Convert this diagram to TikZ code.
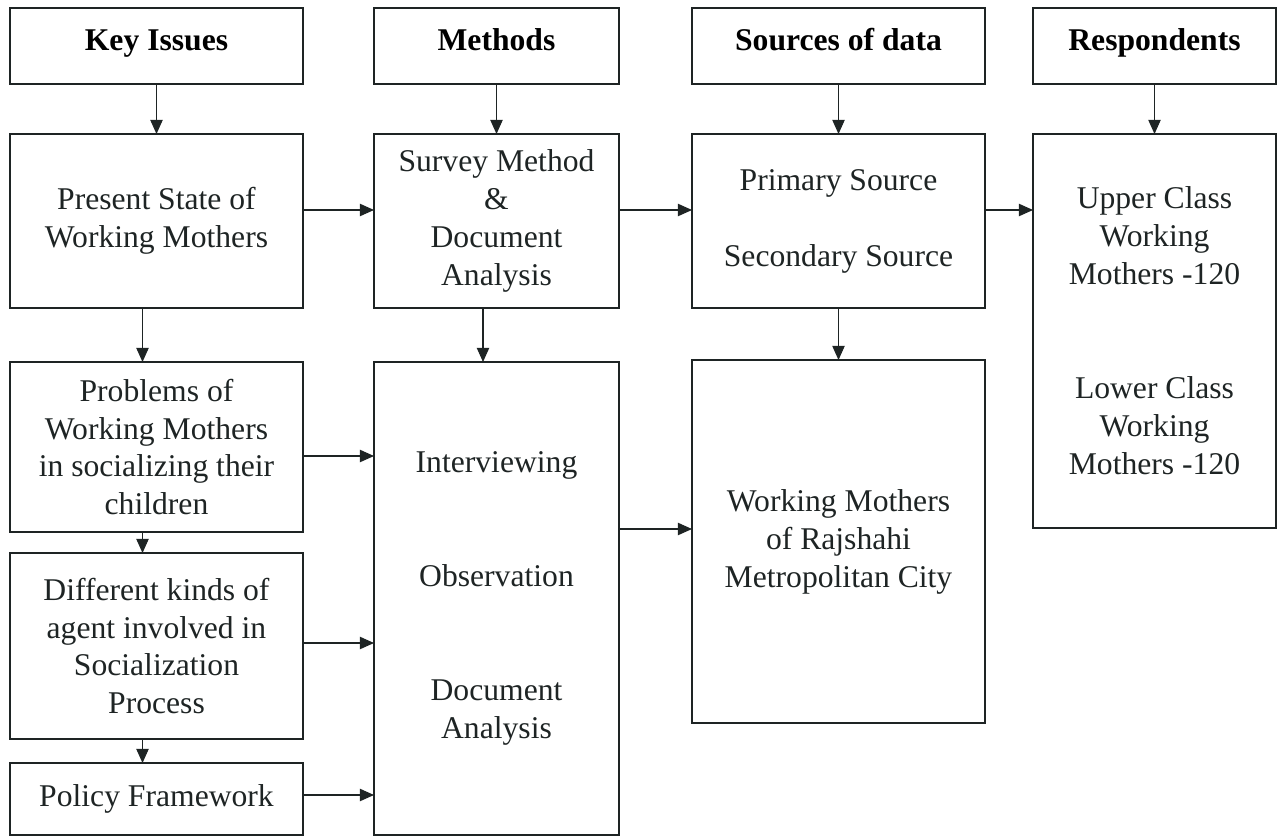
\documentclass[tikz,border=0pt]{standalone}
\usepackage{fontspec}
\setmainfont{Liberation Serif}
\usepackage{tikz}
\usetikzlibrary{arrows.meta, positioning, calc}
\definecolor{mydark}{RGB}{30,36,36}
\tikzset{
  hdrbox/.style={rectangle, draw=mydark, line width=0.8pt,
    align=center, minimum height=1.52cm, inner sep=2pt, outer sep=0pt,
    text height=1.6ex, text depth=0.5ex,
    font=\fontsize{18}{21.6}\selectfont\bfseries},
  box/.style={rectangle, draw=mydark, line width=0.8pt,
    align=center, inner sep=2pt, outer sep=0pt, text=mydark,
    font=\fontsize{18}{21.6}\selectfont},
  arrow/.style={-{Triangle[length=8pt,width=7pt]}, line width=0.6pt, color=mydark}
}
\begin{document}
\begin{tikzpicture}
  \useasboundingbox (0,0) rectangle (25.64,-16.72);
  % Headers
  \node[hdrbox, minimum width=5.86cm, anchor=north west] (keyhdr) at (0.2,-0.16) {Key Issues};
  \node[hdrbox, minimum width=4.9cm, right=1.42cm of keyhdr]  (methhdr) {Methods};
  \node[hdrbox, minimum width=5.86cm, right=1.46cm of methhdr] (srchdr)  {Sources of data};
  \node[hdrbox, minimum width=4.86cm, right=0.96cm of srchdr]  (resphdr) {Respondents};
  % Top row
  \node[box, minimum width=5.86cm, minimum height=3.48cm, below=1cm of keyhdr] (present)
    {Present State of\\Working Mothers};
  \node[box, minimum width=4.9cm, minimum height=3.48cm, below=1cm of methhdr] (survey)
    {Survey Method\\\&\\Document\\Analysis};
  \node[box, minimum width=5.86cm, minimum height=3.48cm, below=1cm of srchdr] (primary)
    {Primary Source\\[\baselineskip]Secondary Source};
  \node[box, minimum width=4.86cm, minimum height=7.88cm, below=1cm of resphdr] (resp)
    {Upper Class\\Working\\Mothers -120\\[2\baselineskip]Lower Class\\Working\\Mothers -120};
  % Lower rows
  \node[box, minimum width=5.86cm, minimum height=3.4cm, below=1.08cm of present] (problems)
    {Problems of\\Working Mothers\\in socializing their\\children};
  \node[box, minimum width=5.86cm, minimum height=3.72cm, below=0.42cm of problems] (agents)
    {Different kinds of\\agent involved in\\Socialization\\Process};
  \node[box, minimum width=5.86cm, minimum height=1.44cm, below=0.48cm of agents] (policy)
    {Policy Framework};
  \node[box, minimum width=4.9cm, minimum height=9.46cm, below=1.08cm of survey] (interv)
    {Interviewing\\[2\baselineskip]Observation\\[2\baselineskip]Document\\Analysis};
  \node[box, minimum width=5.86cm, minimum height=7.26cm, below=1.04cm of primary] (city)
    {Working Mothers\\of Rajshahi\\Metropolitan City};

  % Headers down to the first boxes
  \foreach \a/\b in {keyhdr/present, methhdr/survey, srchdr/primary, resphdr/resp}
    \draw[arrow] (\a.south) -- (\b.north);
  % Across the top row
  \draw[arrow] ([yshift=0.22cm]present.east) -- ([yshift=0.22cm]survey.west);
  \draw[arrow] ([yshift=0.22cm]survey.east)  -- ([yshift=0.22cm]primary.west);
  \draw[arrow] ([yshift=0.22cm]primary.east) -- ([yshift=0.22cm]primary.east -| resp.west);
  % Down the columns
  \draw[arrow] ([xshift=-0.28cm]present.south)  -- ([xshift=-0.28cm]problems.north);
  \draw[arrow] ([xshift=-0.28cm]problems.south) -- ([xshift=-0.28cm]agents.north);
  \draw[arrow] ([xshift=-0.28cm]agents.south)   -- ([xshift=-0.28cm]policy.north);
  \draw[arrow] ([xshift=-0.27cm]survey.south)   -- ([xshift=-0.27cm]interv.north);
  \draw[arrow] (primary.south) -- (city.north);
  % Into and out of the methods box
  \draw[arrow] ([yshift=-0.18cm]problems.east) -- ([yshift=-0.18cm]problems.east -| interv.west);
  \draw[arrow] ([yshift=0.06cm]agents.east)    -- ([yshift=0.06cm]agents.east -| interv.west);
  \draw[arrow] ([yshift=0.08cm]policy.east)    -- ([yshift=0.08cm]policy.east -| interv.west);
  \draw[arrow] ([yshift=0.25cm]city.west -| interv.east) -- ([yshift=0.25cm]city.west);
\end{tikzpicture}
\end{document}
